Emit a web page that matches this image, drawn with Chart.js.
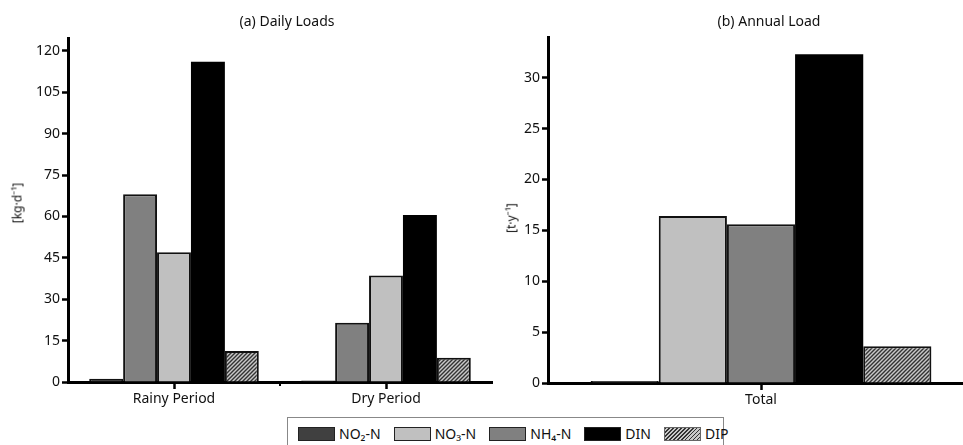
<!DOCTYPE html>
<html>
<head>
<meta charset="utf-8">
<script src="https://cdn.jsdelivr.net/npm/chart.js@4"></script>
<style>
  html, body { margin: 0; padding: 0; background: #fff; overflow: hidden; }
  body { width: 963px; height: 445px; position: relative; font-family: "Noto Sans", sans-serif; color: #111; }
  canvas { position: absolute; top: 0; }
  #dailyChart { left: 0; }
  #annualChart { left: 480px; }
  .title { position: absolute; top: 11px; font-size: 14px; transform: translateX(-50%); white-space: nowrap; }
  .ylab { position: absolute; font-size: 12px; white-space: nowrap; transform: translate(-50%, -50%) rotate(-90deg); }
  #legend { position: absolute; left: 287px; top: 417px; width: 437px; height: 40px; border: 1px solid #888; box-sizing: border-box;
            display: flex; align-items: flex-start; padding: 9px 0 0 10px; gap: 13px; font-size: 14px; }
  .item { display: flex; align-items: center; gap: 4px; white-space: nowrap; line-height: 14px; }
  .swatch { width: 35px; height: 12px; border: 1px solid #222; }
</style>
</head>
<body>
<canvas id="dailyChart" width="500" height="415"></canvas>
<canvas id="annualChart" width="500" height="415"></canvas>
<div class="title" style="left:287px">(a) Daily Loads</div>
<div class="title" style="left:769px">(b) Annual Load</div>
<div class="ylab" style="left:17px; top:203px">[kg·d⁻¹]</div>
<div class="ylab" style="left:511px; top:218px">[t·y⁻¹]</div>
<div id="legend"></div>
<script>
// Données
const dailyCategories = ['Rainy Period', 'Dry Period'];
const annualCategories = ['Total'];
const seriesNames = ['NO₂-N', 'NO₃-N', 'NH₄-N', 'DIN', 'DIP'];

const dailyNO2 = [1.2, 0.5];
const dailyNO3 = [47.0, 38.6];
const dailyNH4 = [68.1, 21.5];
const dailyDIN = [116.1, 60.5];
const dailyDIP = [11.2, 8.8];

const annualNO2 = [0.2];
const annualNO3 = [16.4];
const annualNH4 = [15.6];
const annualDIN = [32.3];
const annualDIP = [3.6];

const dailyTicks = [0, 15, 30, 45, 60, 75, 90, 105, 120];
const annualTicks = [0, 5, 10, 15, 20, 25, 30];

// Couleurs
const COLORS = {
    NO2: '#404040',
    NO3: '#c0c0c0',
    NH4: '#808080',
    DIN: '#000000'
};

// Motif hachuré pour DIP
function makeHatch() {
    const c = document.createElement('canvas');
    c.width = 4;
    c.height = 4;
    const g = c.getContext('2d');
    g.fillStyle = '#c8c8c8';
    g.fillRect(0, 0, 4, 4);
    g.strokeStyle = '#333';
    g.lineWidth = 1.4;
    g.beginPath();
    g.moveTo(-1, 5); g.lineTo(5, -1);
    g.moveTo(-1, 1); g.lineTo(1, -1);
    g.moveTo(3, 5); g.lineTo(5, 3);
    g.stroke();
    return g.createPattern(c, 'repeat');
}
const hatch = makeHatch();

const FONT = { family: 'Noto Sans', size: 14 };

function dataset(label, data, color) {
    return {
        label: label,
        data: data,
        backgroundColor: color,
        borderColor: '#111',
        borderWidth: label === 'DIN' ? 0 : 2,
        borderSkipped: 'bottom',
        categoryPercentage: 0.8,
        barPercentage: 1.0
    };
}

// Petits traits entre catégories
const boundaryTicks = {
    id: 'boundaryTicks',
    afterDraw(chart) {
        const x = chart.scales.x;
        const n = x.getLabels().length;
        const ctx = chart.ctx;
        ctx.save();
        ctx.strokeStyle = '#000';
        ctx.lineWidth = 2;
        for (let i = 0; i <= n; i++) {
            const px = x.getPixelForValue(i - 0.5);
            if (px <= chart.chartArea.left + 2 || px >= chart.chartArea.right - 2) continue;
            ctx.beginPath();
            ctx.moveTo(px, x.top);
            ctx.lineTo(px, x.top + 4);
            ctx.stroke();
        }
        ctx.restore();
    }
};

function makeOptions(max, ticks, yWidth, xHeight, padding) {
    return {
        responsive: false,
        animation: false,
        layout: { padding: padding },
        plugins: { legend: { display: false }, tooltip: { enabled: false } },
        scales: {
            x: {
                grid: { offset: false, drawOnChartArea: false, drawTicks: true, tickLength: 7, tickWidth: 2.5, tickColor: '#000' },
                border: { display: true, color: '#000', width: 3 },
                ticks: { color: '#111', font: FONT, padding: 2 },
                afterFit(scale) { scale.height = xHeight; }
            },
            y: {
                min: 0,
                max: max,
                grid: { drawOnChartArea: false, drawTicks: true, tickLength: 6, tickWidth: 2.5, tickColor: '#000' },
                border: { display: true, color: '#000', width: 3 },
                ticks: { color: '#111', font: FONT, padding: 2 },
                afterBuildTicks(scale) { scale.ticks = ticks.map(v => ({ value: v })); },
                afterFit(scale) { scale.width = yWidth; }
            }
        }
    };
}

// Graphique (a) : charges journalières
new Chart(document.getElementById('dailyChart').getContext('2d'), {
    type: 'bar',
    data: {
        labels: dailyCategories,
        datasets: [
            dataset('NO₂-N', dailyNO2, COLORS.NO2),
            dataset('NH₄-N', dailyNH4, COLORS.NH4),
            dataset('NO₃-N', dailyNO3, COLORS.NO3),
            dataset('DIN', dailyDIN, COLORS.DIN),
            dataset('DIP', dailyDIP, hatch)
        ]
    },
    options: makeOptions(124.7, dailyTicks, 68, 33, { top: 38, right: 8, left: 0, bottom: 0 }),
    plugins: [boundaryTicks]
});

// Graphique (b) : charge annuelle
new Chart(document.getElementById('annualChart').getContext('2d'), {
    type: 'bar',
    data: {
        labels: annualCategories,
        datasets: [
            dataset('NO₂-N', annualNO2, COLORS.NO2),
            dataset('NO₃-N', annualNO3, COLORS.NO3),
            dataset('NH₄-N', annualNH4, COLORS.NH4),
            dataset('DIN', annualDIN, COLORS.DIN),
            dataset('DIP', annualDIP, hatch)
        ]
    },
    options: makeOptions(34, annualTicks, 68, 32, { top: 37, right: 6, left: 0, bottom: 0 }),
    plugins: [boundaryTicks]
});

// Légende commune
const legendColors = [COLORS.NO2, COLORS.NO3, COLORS.NH4, COLORS.DIN, null];
const legend = document.getElementById('legend');
seriesNames.forEach((name, i) => {
    const item = document.createElement('div');
    item.className = 'item';
    const sw = document.createElement('div');
    sw.className = 'swatch';
    if (legendColors[i]) {
        sw.style.background = legendColors[i];
    } else {
        sw.style.background = 'repeating-linear-gradient(-45deg, #c8c8c8 0 1.5px, #333 1.5px 2.8px)';
        sw.style.borderColor = '#666';
    }
    const txt = document.createElement('span');
    txt.textContent = name;
    item.appendChild(sw);
    item.appendChild(txt);
    legend.appendChild(item);
});
</script>
</body>
</html>
